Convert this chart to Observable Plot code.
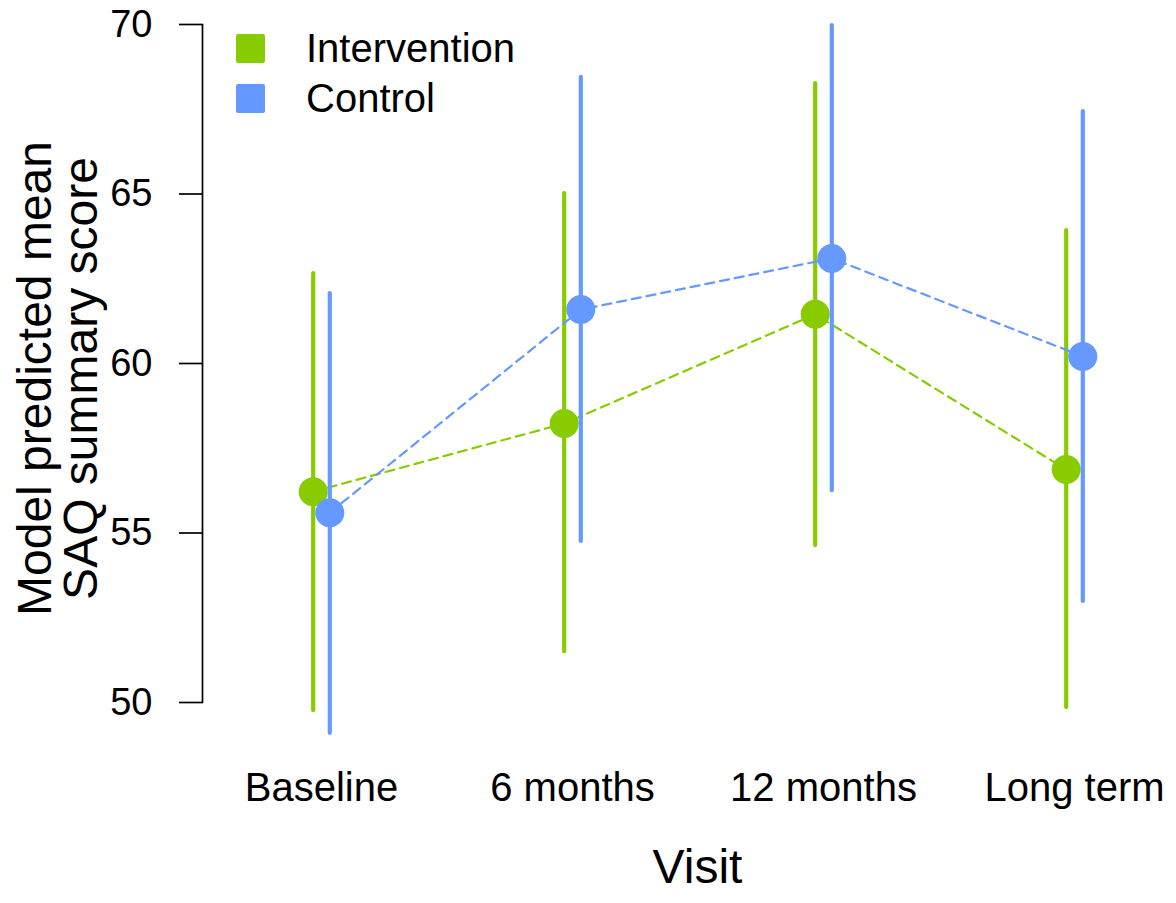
<!DOCTYPE html>
<html>
<head>
<meta charset="utf-8">
<script src="https://cdn.jsdelivr.net/npm/d3@7"></script>
<script src="https://cdn.jsdelivr.net/npm/@observablehq/plot@0.6"></script>
<style>
  html, body { margin: 0; padding: 0; background: #fff; }
  #wrap { position: relative; width: 1176px; height: 903px; font-family: "Liberation Sans", Arial, sans-serif; }
  #legend { position: absolute; left: 236px; top: 23px; font-size: 40px; color: #000; }
  .row { display: flex; align-items: center; height: 50px; }
  .sw { width: 29px; height: 29px; border-radius: 2px; margin-right: 41px; }
</style>
</head>
<body>
<div id="wrap"></div>
<script>
const visits = ["Baseline", "6 months", "12 months", "Long term"];
const groups = ["Intervention", "Control"];
const colors = ["#88CC00", "#6699FF"];

const intMean = [56.22, 58.23, 61.45, 56.87];
const intLow  = [49.76, 51.50, 54.63, 49.85];
const intHigh = [62.65, 65.01, 68.26, 63.92];

const ctlMean = [55.60, 61.59, 63.10, 60.21];
const ctlLow  = [49.09, 54.75, 56.25, 52.98];
const ctlHigh = [62.06, 68.44, 69.97, 67.43];

const yTicks = [50, 55, 60, 65, 70];

const intData = visits.map((v, i) => ({visit: v, mean: intMean[i], low: intLow[i], high: intHigh[i]}));
const ctlData = visits.map((v, i) => ({visit: v, mean: ctlMean[i], low: ctlLow[i], high: ctlHigh[i]}));

function groupMarks(data, color, off) {
  return [
    Plot.ruleX(data, {x: "visit", y1: "low", y2: "high", stroke: color, strokeWidth: 4.2, strokeLinecap: "round", dx: off}),
    Plot.line(data, {x: "visit", y: "mean", stroke: color, strokeWidth: 2.2, strokeDasharray: "9,6", dx: off}),
    Plot.dot(data, {x: "visit", y: "mean", fill: color, r: 14.5, stroke: null, dx: off})
  ];
}

const chart = Plot.plot({
  width: 1176,
  height: 903,
  marginTop: 24,
  marginBottom: 201,
  marginLeft: 202,
  marginRight: 0,
  style: {fontFamily: "Liberation Sans, Arial, sans-serif", background: "#fff", color: "#000", overflow: "visible"},
  x: {type: "point", domain: visits, range: [320, 1075], padding: 0},
  y: {domain: [50, 70]},
  marks: [
    Plot.frame({anchor: "left", stroke: "#000", strokeWidth: 1.7}),
    Plot.axisY(yTicks, {tickSize: 23, tickPadding: 27, fontSize: 38, label: null, strokeWidth: 1.7}),
    Plot.axisX({tickSize: 0, tickPadding: 70, fontSize: 40, label: null}),
    ...groupMarks(intData, colors[0], -8.3),
    ...groupMarks(ctlData, colors[1], 8.3),
    Plot.text({length: 1}, {frameAnchor: "bottom", text: () => "Visit", fontSize: 48, dx: 8, dy: 180}),
    Plot.text({length: 1}, {frameAnchor: "left", textAnchor: "middle", text: () => "Model predicted mean\nSAQ summary score", fontSize: 48, rotate: -90, lineHeight: 0.94, dx: -143, dy: 15})
  ]
});

const wrap = document.getElementById("wrap");
wrap.appendChild(chart);

const legend = document.createElement("div");
legend.id = "legend";
groups.forEach((g, i) => {
  const row = document.createElement("div");
  row.className = "row";
  const sw = document.createElement("div");
  sw.className = "sw";
  sw.style.background = colors[i];
  const t = document.createElement("span");
  t.textContent = g;
  row.appendChild(sw);
  row.appendChild(t);
  legend.appendChild(row);
});
wrap.appendChild(legend);
</script>
</body>
</html>
